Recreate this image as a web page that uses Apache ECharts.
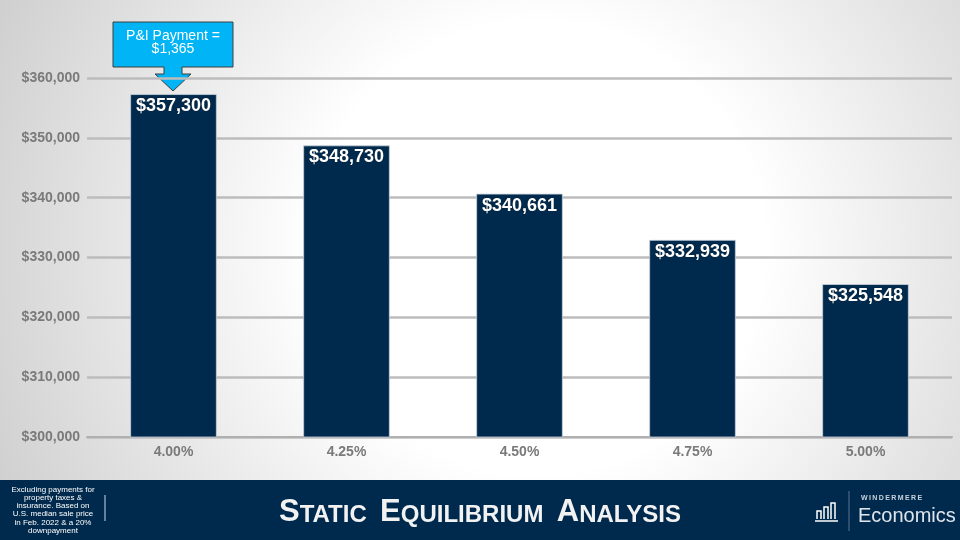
<!DOCTYPE html>
<html>
<head>
<meta charset="utf-8">
<style>
  html, body { margin: 0; padding: 0; background: #fff; }
  #chart { width: 960px; height: 540px; }
</style>
<script src="https://cdn.jsdelivr.net/npm/echarts@6/dist/echarts.min.js"></script>
</head>
<body>
<div id="chart"></div>
<script>
const categories = ['4.00%', '4.25%', '4.50%', '4.75%', '5.00%'];
const prices = [357300, 348730, 340661, 332939, 325548];
const yTicks = { min: 300000, max: 360000, interval: 10000 };
const calloutLines = ['P&I Payment =', '$1,365'];
const footnoteText = 'Excluding payments for\nproperty taxes &\ninsurance. Based on\nU.S. median sale price\nin Feb. 2022 & a 20%\ndownpayment';

const fmt = v => '$' + v.toLocaleString('en-US');

const chart = echarts.init(document.getElementById('chart'), null, { renderer: 'canvas' });

const FONT = "'Liberation Sans', Arial, sans-serif";
const NAVY = '#002a4d';

const option = {
  animation: false,
  backgroundColor: {
    type: 'radial', x: 0.56, y: 0.46, r: 1.1,
    colorStops: [
      { offset: 0, color: '#ffffff' },
      { offset: 0.38, color: '#ffffff' },
      { offset: 1, color: '#cfcfcf' }
    ]
  },
  grid: { left: 87, right: 8, top: 78, bottom: 103 },
  xAxis: {
    type: 'category',
    data: categories,
    axisLine: { lineStyle: { color: '#b0b0b0', width: 2 } },
    axisTick: { show: false },
    axisLabel: { color: '#7a7a7a', fontFamily: FONT, fontWeight: 'bold', fontSize: 14, margin: 8 }
  },
  yAxis: {
    type: 'value',
    min: yTicks.min, max: yTicks.max, interval: yTicks.interval,
    axisLine: { show: false },
    axisTick: { show: false },
    splitLine: { lineStyle: { color: '#bcbcbc', width: 2.5 } },
    axisLabel: { color: '#7a7a7a', fontFamily: FONT, fontWeight: 'bold', fontSize: 14, margin: 7, formatter: fmt }
  },
  series: [{
    type: 'bar',
    data: prices,
    barWidth: '50%',
    itemStyle: { color: NAVY, borderColor: '#c9d2dc', borderWidth: 0.8 },
    label: {
      show: true, position: 'insideTop', distance: 3,
      color: '#ffffff', fontFamily: FONT, fontWeight: 'bold', fontSize: 18,
      textShadowColor: 'rgba(0,0,0,0.6)', textShadowBlur: 1,
      formatter: p => fmt(p.value)
    }
  }],
  graphic: []
};
chart.setOption(option);

// Callout anchored to the first bar's top
const tip = chart.convertToPixel({ seriesIndex: 0 }, [0, prices[0]]);
const cx = Math.round(tip[0]) - 1, ty = Math.round(tip[1]) - 3;

const graphics = [
  {
    type: 'group', x: cx, y: ty, z: 100,
    children: [
      {
        type: 'polygon',
        shape: { points: [[-60, -69], [60, -69], [60, -24], [9, -24], [9, -17], [18, -17], [0, 0], [-18, -17], [-9, -17], [-9, -24], [-60, -24]] },
        style: { fill: '#00b4f5', stroke: '#3f3f3f', lineWidth: 1 }
      },
      {
        type: 'text', x: 0, y: -48,
        style: { text: calloutLines.join('\n'), fill: '#ffffff', font: "14px " + FONT, align: 'center', verticalAlign: 'middle', lineHeight: 13 }
      }
    ]
  },
  // footer band
  { type: 'rect', shape: { x: 0, y: 480, width: 960, height: 60 }, style: { fill: NAVY }, z: 50 },
  {
    type: 'text', x: 53, y: 510, z: 51,
    style: { text: footnoteText, fill: '#ffffff', font: "8px " + FONT, align: 'center', verticalAlign: 'middle', lineHeight: 8.2 }
  },
  { type: 'line', shape: { x1: 105, y1: 495, x2: 105, y2: 521 }, style: { stroke: '#d0d6de', lineWidth: 1 }, z: 51 },
  {
    type: 'text', x: 480, y: 512, z: 51,
    style: {
      text: '{b|S}{s|TATIC}{s|  }{b|E}{s|QUILIBRIUM}{s|  }{b|A}{s|NALYSIS}',
      align: 'center', verticalAlign: 'middle',
      rich: {
        b: { fill: '#f2f2f2', font: "bold 31px " + FONT, verticalAlign: 'bottom' },
        s: { fill: '#f2f2f2', font: "bold 24px " + FONT, verticalAlign: 'bottom' }
      }
    }
  },
  // logo icon
  { type: 'line', shape: { x1: 815, y1: 521, x2: 838, y2: 521 }, style: { stroke: '#ffffff', lineWidth: 1.5 }, z: 51 },
  { type: 'polyline', shape: { points: [[817, 519], [817, 511], [821, 511], [821, 519]] }, style: { stroke: '#ffffff', lineWidth: 1.5, fill: null }, z: 51 },
  { type: 'polyline', shape: { points: [[824, 519], [824, 507], [828, 507], [828, 519]] }, style: { stroke: '#ffffff', lineWidth: 1.5, fill: null }, z: 51 },
  { type: 'polyline', shape: { points: [[831, 519], [831, 503], [835, 503], [835, 519]] }, style: { stroke: '#ffffff', lineWidth: 1.5, fill: null }, z: 51 },
  { type: 'line', shape: { x1: 849, y1: 491, x2: 849, y2: 531 }, style: { stroke: '#5a7390', lineWidth: 1 }, z: 51 },
  {
    type: 'text', x: 861, y: 498, z: 51,
    style: { text: 'W\u2009I\u2009N\u2009D\u2009E\u2009R\u2009M\u2009E\u2009R\u2009E', fill: '#c9d2dc', font: "bold 7px " + FONT, verticalAlign: 'middle' }
  },
  {
    type: 'text', x: 858, y: 516, z: 51,
    style: { text: 'Economics', fill: '#dfe5ec', font: "20px " + FONT, verticalAlign: 'middle' }
  }
];
chart.setOption({ graphic: graphics });
</script>
</body>
</html>
